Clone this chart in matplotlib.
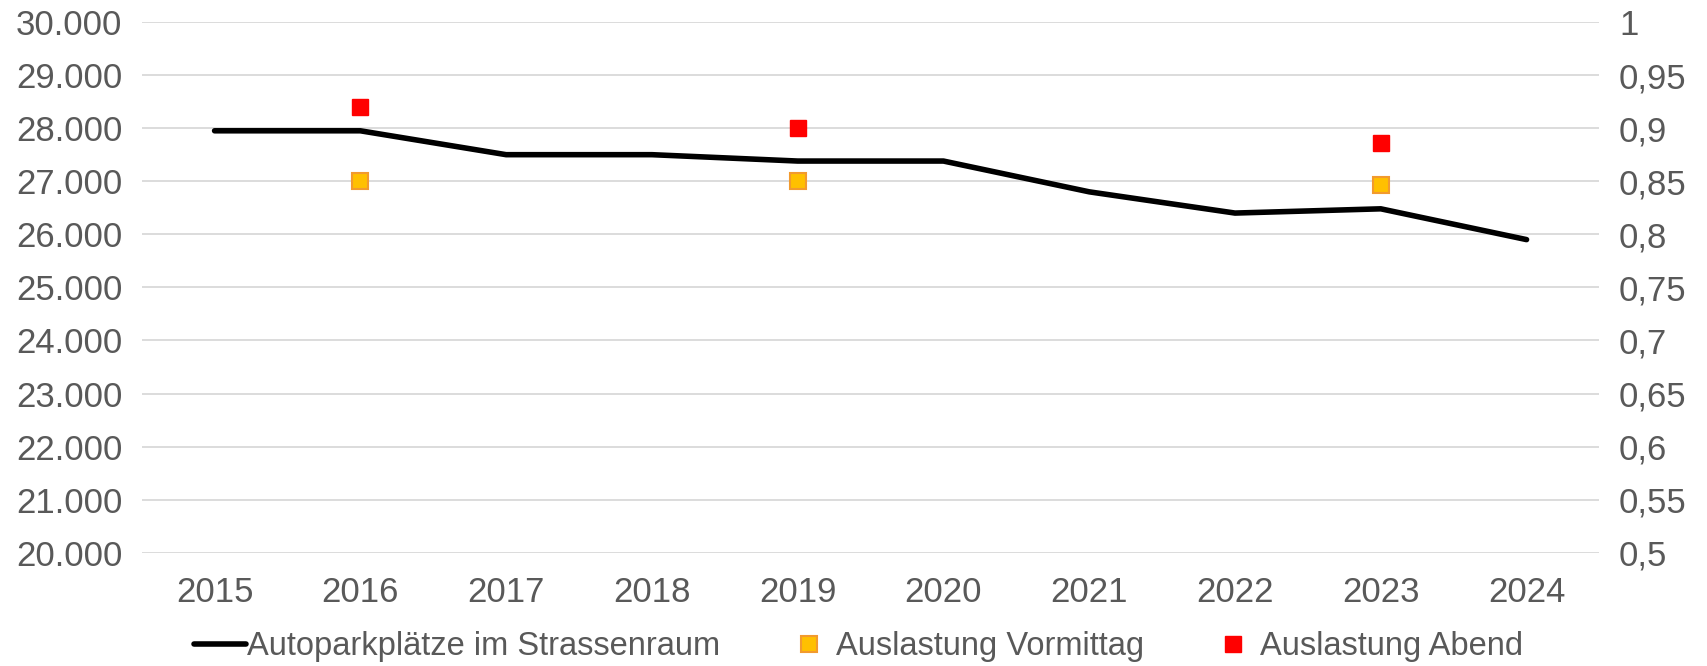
import matplotlib.pyplot as plt
from matplotlib.ticker import FuncFormatter

plt.rcParams["font.family"] = ["Liberation Sans", "DejaVu Sans"]

years = ["2015", "2016", "2017", "2018", "2019", "2020", "2021", "2022", "2023", "2024"]
parkplaetze = [27950, 27950, 27500, 27500, 27380, 27380, 26800, 26400, 26480, 25900]

# occupancy only measured in some years
auslastung_years = ["2016", "2019", "2023"]
auslastung_vormittag = [0.85, 0.85, 0.846]
auslastung_abend = [0.92, 0.90, 0.886]

text_color = "#595959"
grid_color = "#d9d9d9"

fig = plt.figure(figsize=(17.07, 6.66), dpi=100)
ax = fig.add_axes([0.083, 0.170, 0.854, 0.797])
ax2 = ax.twinx()

x = list(range(len(years)))
x_occ = [years.index(y) for y in auslastung_years]

line, = ax.plot(x, parkplaetze, color="black", linewidth=4.0,
                solid_capstyle="round", label="Autoparkplätze im Strassenraum", zorder=3)
vm, = ax2.plot(x_occ, auslastung_vormittag, linestyle="none", marker="s",
               markersize=11, markerfacecolor="#FFC000", markeredgecolor="#F29A2E",
               markeredgewidth=1.5, label="Auslastung Vormittag")
ab, = ax2.plot(x_occ, auslastung_abend, linestyle="none", marker="s",
               markersize=11, markerfacecolor="#FF0000", markeredgecolor="#FF0000",
               markeredgewidth=1.0, label="Auslastung Abend")

ax.set_xlim(-0.5, len(years) - 0.5)
ax.set_ylim(20000, 30000)
ax.set_yticks(range(20000, 30001, 1000))
ax.yaxis.set_major_formatter(FuncFormatter(lambda v, p: f"{int(v):,}".replace(",", ".")))
ax2.set_ylim(0.5, 1.0)
ax2.set_yticks([0.5 + 0.05 * i for i in range(11)])
ax2.yaxis.set_major_formatter(FuncFormatter(lambda v, p: f"{v:.2f}".rstrip("0").rstrip(".").replace(".", ",")))

ax.set_xticks(x)
ax.set_xticklabels(years)

ax.grid(axis="y", color=grid_color, linewidth=1.3)
ax.set_axisbelow(True)

for a in (ax, ax2):
    for s in a.spines.values():
        s.set_visible(False)
    a.tick_params(length=0, labelsize=25, colors=text_color)
ax.tick_params(axis="x", pad=17)
ax.tick_params(axis="y", pad=14)
ax2.tick_params(axis="y", pad=14)

fig.legend(handles=[line, vm, ab], loc="lower center", bbox_to_anchor=(0.503, -0.038),
           ncol=3, frameon=False, fontsize=23.5, labelcolor=text_color,
           handlelength=1.6, handletextpad=0.05, columnspacing=1.9)

fig.savefig("out.png", dpi=100)
